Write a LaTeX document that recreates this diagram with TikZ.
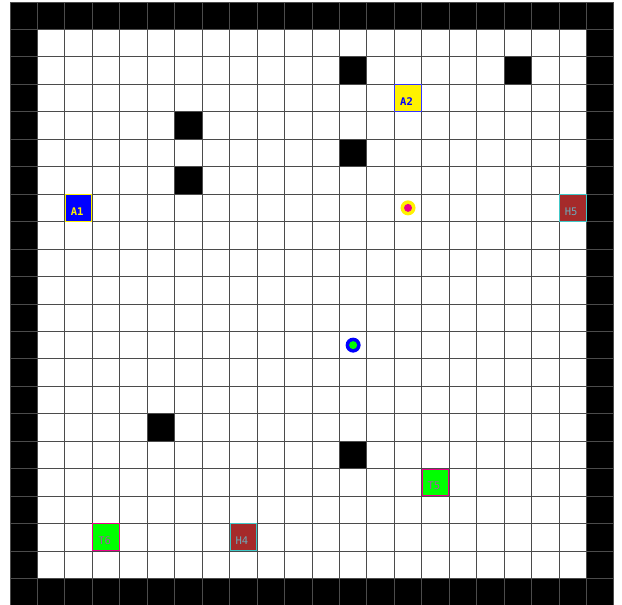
\documentclass[tikz,border=0pt]{standalone}
\usepackage{fontspec}
\newfontfamily\monof{DejaVu Sans Mono}
\definecolor{gridc}{RGB}{75,75,75}
\definecolor{hcol}{RGB}{165,42,42}
\definecolor{hedge}{RGB}{64,200,200}
\definecolor{htext}{RGB}{110,170,185}
\definecolor{ttext}{RGB}{170,80,170}
\definecolor{agreen}{RGB}{0,255,0}
\begin{document}
\begin{tikzpicture}[x=1pt,y=-1pt,
  cell/.style={minimum size=26.6pt,inner sep=0pt,line width=1pt},
  lbl/.style={inner sep=0pt,font=\monof\fontsize{10.5}{10.5}\selectfont},
  albl/.style={inner sep=0pt,font=\monof\bfseries\fontsize{10.5}{10.5}\selectfont}]
\def\cs{27.45}
\def\xo{10}
\def\yo{2}
\useasboundingbox (0,0) rectangle (622,605);
\fill[white] (0,0) rectangle (622,605);
% outer walls
\fill[black] (\xo,\yo) rectangle ({\xo+22*\cs},{\yo+\cs});
\fill[black] (\xo,{\yo+21*\cs}) rectangle ({\xo+22*\cs},{\yo+22*\cs});
\fill[black] (\xo,\yo) rectangle ({\xo+\cs},{\yo+22*\cs});
\fill[black] ({\xo+21*\cs},\yo) rectangle ({\xo+22*\cs},{\yo+22*\cs});
% inner obstacles (col,row)
\foreach \c/\r in {12/2,18/2,6/4,12/5,6/6,5/15,12/16}{
  \fill[black] ({\xo+\c*\cs},{\yo+\r*\cs}) rectangle ({\xo+(\c+1)*\cs},{\yo+(\r+1)*\cs});
}
% grid lines
\foreach \i in {0,...,22}{
  \draw[gridc,line width=0.9pt] ({\xo+\i*\cs},\yo) -- ({\xo+\i*\cs},{\yo+22*\cs});
  \draw[gridc,line width=0.9pt] (\xo,{\yo+\i*\cs}) -- ({\xo+22*\cs},{\yo+\i*\cs});
}
% agents, targets, holes
\node[cell,fill=blue,draw=yellow] (A1) at ({\xo+2.5*\cs},{\yo+7.5*\cs}) {};
\node[albl,text=yellow] (A1t) at ([xshift=-1.5pt,yshift=-3.5pt]A1.center) {A1};
\node[cell,fill=yellow,draw=blue!80!white] (A2) at ({\xo+14.5*\cs},{\yo+3.5*\cs}) {};
\node[albl,text=blue] (A2t) at ([xshift=-1.5pt,yshift=-3.5pt]A2.center) {A2};
\node[cell,fill=hcol,draw=hedge] (H5) at ({\xo+20.5*\cs},{\yo+7.5*\cs}) {};
\node[lbl,text=htext] (H5t) at ([xshift=-1.5pt,yshift=-3.5pt]H5.center) {H5};
\node[cell,fill=hcol,draw=hedge] (H4) at ({\xo+8.5*\cs},{\yo+19.5*\cs}) {};
\node[lbl,text=htext] (H4t) at ([xshift=-1.5pt,yshift=-3.5pt]H4.center) {H4};
\node[cell,fill=agreen,draw=magenta] (T5) at ({\xo+15.5*\cs},{\yo+17.5*\cs}) {};
\node[lbl,text=ttext] (T5t) at ([xshift=-1.5pt,yshift=-3.5pt]T5.center) {T5};
\node[cell,fill=agreen,draw=magenta] (T6) at ({\xo+3.5*\cs},{\yo+19.5*\cs}) {};
\node[lbl,text=ttext] (T6t) at ([xshift=-1.5pt,yshift=-3.5pt]T6.center) {T6};
% markers
\node[circle,fill=yellow,minimum size=15pt,inner sep=0pt] (M1) at ({\xo+14.5*\cs},{\yo+7.5*\cs}) {};
\node[circle,fill=magenta,minimum size=8pt,inner sep=0pt] (M1c) at (M1.center) {};
\node[circle,fill=blue,minimum size=15pt,inner sep=0pt] (M2) at ({\xo+12.5*\cs},{\yo+12.5*\cs}) {};
\node[circle,fill=agreen,minimum size=8pt,inner sep=0pt] (M2c) at (M2.center) {};
\end{tikzpicture}
\end{document}
